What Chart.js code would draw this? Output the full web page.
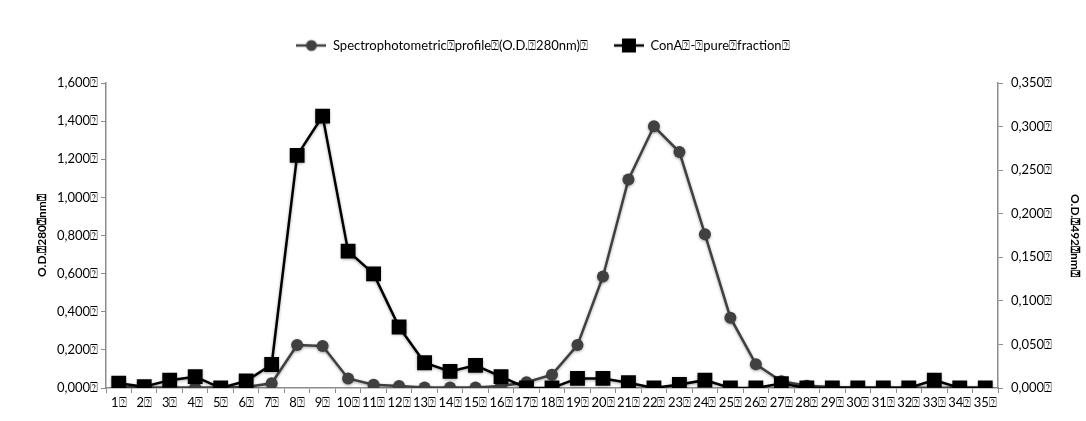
<!DOCTYPE html>
<html>
<head>
<meta charset="utf-8">
<script src="https://cdn.jsdelivr.net/npm/chart.js@4.4.1/dist/chart.umd.min.js"></script>
<style>
  html, body { margin: 0; padding: 0; background: #fff; }
  #wrap { width: 1086px; height: 421px; }
</style>
</head>
<body>
<div id="wrap"><canvas id="elution" width="1086" height="421"></canvas></div>
<script>
// fracciones de la columna
const fractions = ['1⍰','2⍰','3⍰','4⍰','5⍰','6⍰','7⍰','8⍰','9⍰','10⍰','11⍰','12⍰','13⍰','14⍰','15⍰','16⍰','17⍰','18⍰','19⍰','20⍰','21⍰','22⍰','23⍰','24⍰','25⍰','26⍰','27⍰','28⍰','29⍰','30⍰','31⍰','32⍰','33⍰','34⍰','35⍰'];

// absorbancia a 280 nm (eje izquierdo)
const od280 = [0.005, 0.003, 0.003, 0.003, 0.002, 0.005, 0.025, 0.225, 0.220, 0.050,
               0.017, 0.010, 0.003, 0.003, 0.003, 0.010, 0.030, 0.070, 0.225, 0.585,
               1.094, 1.373, 1.238, 0.807, 0.369, 0.125, 0.035, 0.012, 0.005, 0.003,
               0.003, 0.002, 0.000, 0.002, 0.002];

// ConA pura, 492 nm (eje derecho)
const od492 = [0.0055, 0.0015, 0.009, 0.013, 0.000, 0.008, 0.027, 0.267, 0.312, 0.157,
               0.131, 0.070, 0.029, 0.019, 0.026, 0.013, 0.000, 0.000, 0.011, 0.011,
               0.006, 0.000, 0.004, 0.009, 0.000, 0.000, 0.005, 0.000, 0.000, 0.000,
               0.000, 0.000, 0.009, 0.000, 0.000];

const leftTicks = ['0,000⍰','0,200⍰','0,400⍰','0,600⍰','0,800⍰','1,000⍰','1,200⍰','1,400⍰','1,600⍰'];
const rightTicks = ['0,000⍰','0,050⍰','0,100⍰','0,150⍰','0,200⍰','0,250⍰','0,300⍰','0,350⍰'];

const seriesNames = ['Spectrophotometric⍰profile⍰(O.D.⍰280nm)⍰', 'ConA⍰-⍰pure⍰fraction⍰'];
const axisTitles = ['O.D.⍰280⍰nm⍰', 'O.D.⍰492⍰nm⍰'];

const FONT = 'Lato, "DejaVu Sans", sans-serif';
const GRAY = '#404040';
const AXIS = '#8c8c8c';

// icono de leyenda: linea con marcador
function legendIcon(color, shape) {
  const c = document.createElement('canvas');
  c.width = 30; c.height = 16;
  const g = c.getContext('2d');
  g.strokeStyle = color; g.lineWidth = 2.5;
  g.beginPath(); g.moveTo(0, 8); g.lineTo(30, 8); g.stroke();
  g.fillStyle = color;
  if (shape === 'circle') {
    g.beginPath(); g.arc(15, 8, 5.5, 0, Math.PI * 2); g.fill();
  } else {
    g.fillRect(8, 1, 14, 14);
  }
  return c;
}

// sombra suave bajo lineas y marcadores
const softShadow = {
  id: 'softShadow',
  beforeDatasetsDraw(chart) {
    const ctx = chart.ctx;
    ctx.save();
    ctx.shadowColor = 'rgba(0,0,0,0.35)';
    ctx.shadowBlur = 3;
    ctx.shadowOffsetY = 1;
  },
  afterDatasetsDraw(chart) {
    chart.ctx.restore();
  }
};

// un poco mas de aire bajo la leyenda
const legendGap = {
  id: 'legendGap',
  beforeLayout(chart) {
    const lg = chart.legend;
    if (lg && !lg._gapSet) {
      lg._gapSet = true;
      const fit = lg.fit;
      lg.fit = function () { fit.call(this); this.height += 21; };
    }
  }
};

const ctx = document.getElementById('elution');
const chart = new Chart(ctx, {
  type: 'line',
  data: {
    labels: fractions,
    datasets: [{
      label: seriesNames[0],
      data: od280,
      yAxisID: 'y',
      order: 1,
      borderColor: GRAY,
      backgroundColor: GRAY,
      borderWidth: 2.5,
      pointStyle: 'circle',
      pointRadius: 6,
      pointBorderWidth: 0,
      tension: 0
    }, {
      label: seriesNames[1],
      data: od492,
      yAxisID: 'y1',
      order: 0,
      borderColor: '#000',
      backgroundColor: '#000',
      borderWidth: 2.5,
      pointStyle: 'rect',
      pointRadius: 10.5,
      pointBorderWidth: 0,
      tension: 0
    }]
  },
  plugins: [softShadow, legendGap],
  options: {
    responsive: false,
    animation: false,
    devicePixelRatio: 1,
    layout: { padding: { top: 13, bottom: 0, left: 0, right: 0 } },
    plugins: {
      tooltip: { enabled: false },
      legend: {
        position: 'top',
        labels: {
          usePointStyle: true,
          pointStyleWidth: 30,
          padding: 26,
          color: '#000',
          font: { family: FONT, size: 13 },
          generateLabels() {
            return [
              { text: seriesNames[0], pointStyle: legendIcon(GRAY, 'circle'), fillStyle: GRAY, strokeStyle: GRAY, lineWidth: 0, datasetIndex: 0, hidden: false },
              { text: seriesNames[1], pointStyle: legendIcon('#000', 'rect'), fillStyle: '#000', strokeStyle: '#000', lineWidth: 0, datasetIndex: 1, hidden: false }
            ];
          }
        }
      }
    },
    scales: {
      x: {
        offset: true,
        grid: { offset: true, drawOnChartArea: false, tickLength: 5, color: AXIS, lineWidth: 1 },
        border: { color: AXIS, width: 1.5 },
        ticks: { autoSkip: false, maxRotation: 0, padding: 2, color: '#000', font: { family: FONT, size: 13 } },
        afterFit(s) { s.height = 33; }
      },
      y: {
        position: 'left',
        min: 0, max: 1.6,
        grid: { drawOnChartArea: false, tickLength: 5, color: AXIS },
        border: { color: AXIS, width: 1.5 },
        ticks: { stepSize: 0.2, padding: 3, color: '#000', font: { family: FONT, size: 13 },
                 callback: (v, i) => leftTicks[i] },
        title: { display: true, text: axisTitles[0], color: '#000', padding: { top: 35 },
                 font: { family: FONT, size: 12, weight: 'bold' } },
        afterFit(s) { s.width = 106; }
      },
      y1: {
        position: 'right',
        min: 0, max: 0.35,
        grid: { drawOnChartArea: false, tickLength: 5, color: AXIS },
        border: { color: AXIS, width: 1.5 },
        ticks: { stepSize: 0.05, padding: 8, color: '#000', font: { family: FONT, size: 13 },
                 callback: (v, i) => rightTicks[i] },
        title: { display: true, text: axisTitles[1], color: '#000', padding: { top: 4 },
                 font: { family: FONT, size: 12, weight: 'bold' } },
        afterFit(s) { s.width = 88; }
      }
    }
  }
});
</script>
</body>
</html>
